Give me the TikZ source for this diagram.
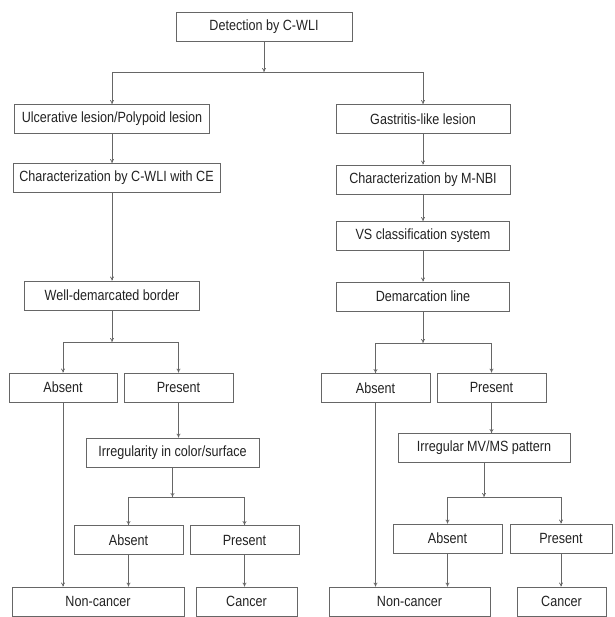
\documentclass[tikz,border=0pt]{standalone}
\usepackage{fontspec}
\setmainfont{Liberation Sans}[FakeStretch=0.85]
\usetikzlibrary{arrows.meta,positioning}
\definecolor{linegray}{HTML}{666666}
\definecolor{textgray}{HTML}{222222}
\tikzset{
  box/.style={draw=linegray, line width=0.8pt, minimum height=29pt,
    inner sep=1pt, text=textgray, font=\fontsize{14.8}{17}\selectfont},
  arr/.style={draw=linegray, line width=0.7pt, -{To[length=4pt,width=4pt]}},
  ln/.style={draw=linegray, line width=0.7pt}
}
\begin{document}
\begin{tikzpicture}[x=1pt,y=-1pt]

        \useasboundingbox (0,0) rectangle (614,617);

        % top
        \node [box, minimum width=176pt] (det) at (264,26.5) {Detection by C-WLI};

        \node [box, minimum width=195pt] (ulc) at (112,119) {Ulcerative lesion/Polypoid lesion};
        \node [box, minimum width=174pt] (gas) at (423,119) {Gastritis-like lesion};

        % left branch
        \node [box, minimum width=207pt] (chw) at (116.5,178) {Characterization by C-WLI with CE};
        \node [box, minimum width=175pt] (wdb) at (112,295.5) {Well-demarcated border};
        \node [box, minimum width=108pt] (absL) at (63,387.5) {Absent};
        \node [box, minimum width=109pt] (preL) at (178.5,387.5) {Present};
        \node [box, minimum width=173pt] (irrL) at (172.5,452.5) {Irregularity in color/surface};
        \node [box, minimum width=109pt] (absLL) at (128.5,540) {Absent};
        \node [box, minimum width=109pt] (preLL) at (244.5,540) {Present};
        \node [box, minimum width=172pt] (ncL) at (98,601.5) {Non-cancer};
        \node [box, minimum width=101pt] (canL) at (246.5,601.5) {Cancer};

        % right branch
        \node [box, minimum width=174pt] (chn) at (423,179.5) {Characterization by M-NBI};
        \node [box, minimum width=173pt] (vs) at (423,236) {VS classification system};
        \node [box, minimum width=173pt] (dml) at (423,296.5) {Demarcation line};
        \node [box, minimum width=109pt] (absR) at (375.5,388) {Absent};
        \node [box, minimum width=109pt] (preR) at (491.5,387.5) {Present};
        \node [box, minimum width=172pt] (irrR) at (484,448) {Irregular MV/MS pattern};
        \node [box, minimum width=109pt] (absRR) at (447.5,538.5) {Absent};
        \node [box, minimum width=102pt] (preRR) at (561,538.5) {Present};
        \node [box, minimum width=161pt] (ncR) at (409.5,601.5) {Non-cancer};
        \node [box, minimum width=89pt] (canR) at (561.5,601.5) {Cancer};

        % junctions
        \coordinate (j0) at (264,72);
        \coordinate (jL) at (112,342);
        \coordinate (jR) at (423,343);
        \coordinate (jLL) at (172.5,497);
        \coordinate (jRR) at (484,497);

        % connectors
        \draw [arr] (det) -- (j0);
        \draw [arr] (j0) -| (ulc);
        \draw [arr] (j0) -| (gas);
        \draw [arr] (ulc) -- (ulc |- chw.north);
        \draw [arr] (chw.south -| ulc) -- (wdb);
        \draw [arr] (gas) -- (chn);
        \draw [arr] (chn) -- (vs);
        \draw [arr] (vs) -- (dml);

        \draw [arr] (wdb) -- (jL);
        \draw [arr] (jL) -| (absL);
        \draw [arr] (jL) -| (preL);
        \draw [arr] (dml) -- (jR);
        \draw [arr] (jR) -| (absR);
        \draw [arr] (jR) -| (preR);

        \draw [arr] (absL) -- (absL |- ncL.north);
        \draw [arr] (preL) -- (preL |- irrL.north);
        \draw [arr] (irrL) -- (jLL);
        \draw [arr] (jLL) -| (absLL);
        \draw [arr] (jLL) -| (preLL);
        \draw [arr] (absLL) -- (absLL |- ncL.north);
        \draw [arr] (preLL) -- (preLL |- canL.north);

        \draw [arr] (absR) -- (absR |- ncR.north);
        \draw [arr] (preR) -- (preR |- irrR.north);
        \draw [arr] (irrR) -- (jRR);
        \draw [arr] (jRR) -| (absRR);
        \draw [arr] (jRR) -| (preRR);
        \draw [arr] (absRR) -- (absRR |- ncR.north);
        \draw [arr] (preRR) -- (preRR |- canR.north);

    \end{tikzpicture}
\end{document}
